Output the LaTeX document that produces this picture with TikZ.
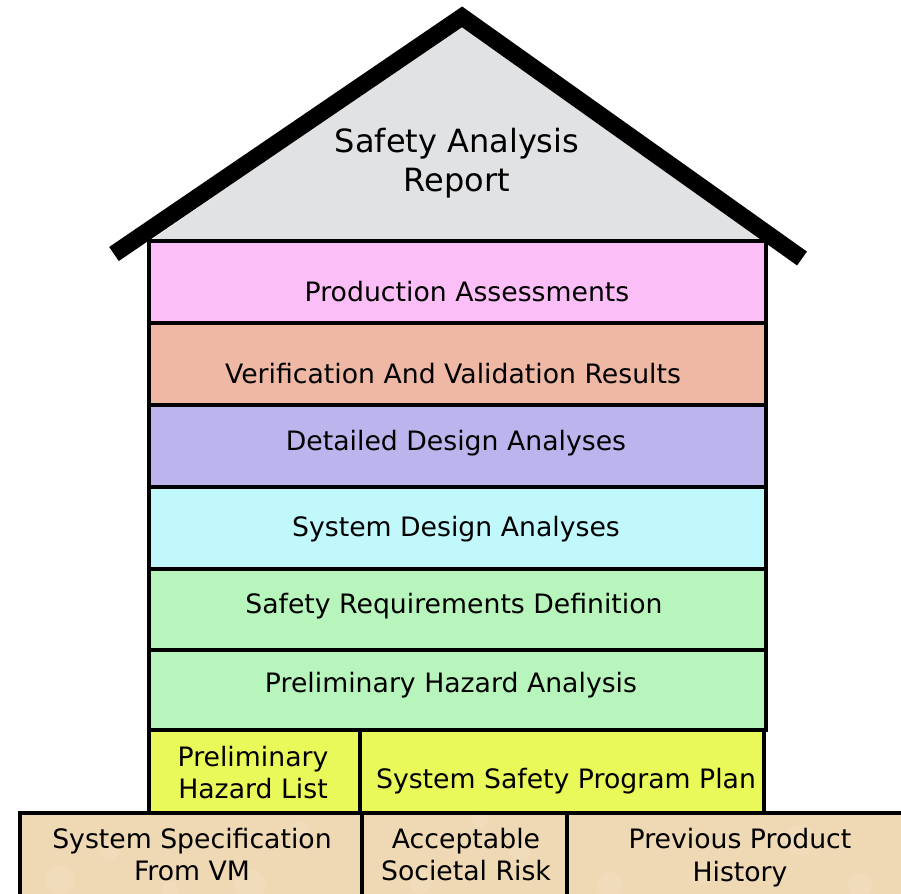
\documentclass[tikz,border=0pt]{standalone}
\usepackage{fontspec}
\setmainfont{DejaVu Sans}
\definecolor{cpink}{HTML}{FBBEF6}
\definecolor{csalmon}{HTML}{EEB8A5}
\definecolor{clav}{HTML}{BCB4EC}
\definecolor{ccyan}{HTML}{C0F8FC}
\definecolor{cgreen}{HTML}{B8F5BC}
\definecolor{cyellow}{HTML}{EAF95A}
\definecolor{cgrey}{HTML}{E1E2E4}
\definecolor{ctan}{HTML}{EFD8B4}
\definecolor{ctanlight}{HTML}{F5E4C8}
\begin{document}
\begin{tikzpicture}[x=1pt,y=-1pt,
  box/.style={draw=black,line width=3.8pt},
  lbl/.style={anchor=base,inner sep=0pt,font=\fontsize{26.7}{32}\selectfont},
  rooflbl/.style={anchor=base,inner sep=0pt,font=\fontsize{32}{38}\selectfont},
  roofline/.style={line width=17pt,line cap=butt}]
\useasboundingbox (0,0) rectangle (901,893);
% roof interior
\fill[cgrey] (150,241) -- (462,25) -- (765,241) -- cycle;
\node[rooflbl] (sar1) at (457,153) {Safety Analysis};
\node[rooflbl] (sar2) at (457,192) {Report};
% layers
\draw[box,fill=cpink]   (149,241) rectangle (766,323);
\draw[box,fill=csalmon] (149,323) rectangle (766,405);
\draw[box,fill=clav]    (149,405) rectangle (766,487);
\draw[box,fill=ccyan]   (149,487) rectangle (766,569);
\draw[box,fill=cgreen]  (149,569) rectangle (766,650);
\draw[box,fill=cgreen]  (149,650) rectangle (766,730);
\node[lbl] (pa)  at (467,301) {Production Assessments};
\node[lbl] (vv)  at (453,383) {Verification And Validation Results};
\node[lbl] (dda) at (456,450) {Detailed Design Analyses};
\node[lbl] (sda) at (456,536) {System Design Analyses};
\node[lbl] (srd) at (454,613) {Safety Requirements Definition};
\node[lbl] (pha) at (451,692) {Preliminary Hazard Analysis};
% yellow row
\draw[box,fill=cyellow] (149,730) rectangle (360,813);
\draw[box,fill=cyellow] (360,730) rectangle (764,813);
\node[lbl] (phl1) at (253,766) {Preliminary};
\node[lbl] (phl2) at (253,798) {Hazard List};
\node[lbl] (sspp) at (566,788) {System Safety Program Plan};
% foundation
\draw[box,fill=ctan] (20,813) rectangle (362,910);
\draw[box,fill=ctan] (362,813) rectangle (567,910);
\draw[box,fill=ctan] (567,813) rectangle (920,910);
\begin{scope}
\clip (22,815) rectangle (901,893);
\foreach \cx/\cy/\r in {60/880/14,110/850/10,250/885/16,300/830/9,420/882/12,520/850/11,610/885/13,700/875/10,800/840/15,860/885/12,170/890/9,480/820/8}
  \fill[ctanlight,opacity=0.3] (\cx,\cy) circle (\r);
\end{scope}
\draw[box] (20,813) -- (901,813);
\draw[box] (20,813) -- (20,893);
\draw[box] (362,813) -- (362,893);
\draw[box] (567,813) -- (567,893);
\node[lbl] (ss1) at (192,848) {System Specification};
\node[lbl] (ss2) at (192,880) {From VM};
\node[lbl] (asr1) at (466,848) {Acceptable};
\node[lbl] (asr2) at (466,880) {Societal Risk};
\node[lbl] (ppH1) at (740,848) {Previous Product};
\node[lbl] (ppH2) at (740,881) {History};
% roof lines
\coordinate (apexL) at (467,13.5);
\coordinate (eaveL) at (114,254);
\coordinate (apexR) at (458,14);
\coordinate (eaveR) at (802,258.5);
\draw[roofline] (apexL) -- (eaveL);
\draw[roofline] (apexR) -- (eaveR);
\end{tikzpicture}
\end{document}
